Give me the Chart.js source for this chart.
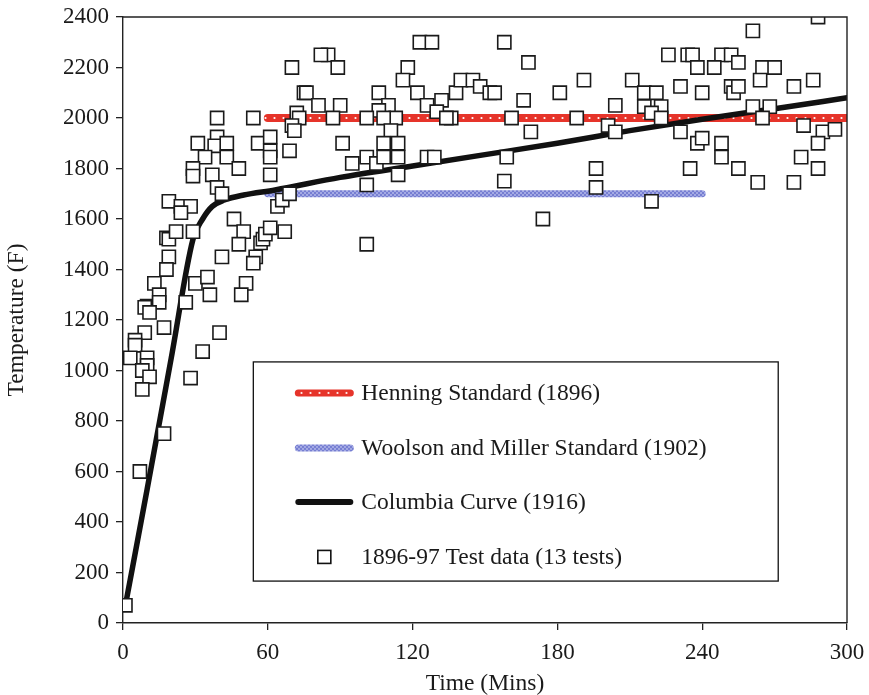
<!DOCTYPE html>
<html>
<head>
<meta charset="utf-8">
<script src="https://cdn.jsdelivr.net/npm/chart.js@4"></script>
<style>
  html, body { margin: 0; padding: 0; background: #fff; }
  #wrap { width: 869px; height: 695px; }
</style>
</head>
<body>
<div id="wrap"><canvas id="fireChart"></canvas></div>
<script>
// test data 1896-97 (minutes, deg F)
const testTimes = [
    70, 75, 72, 73, 70, 71, 39, 54, 31, 39, 38, 43, 56, 61, 61, 61, 69, 34, 43, 29,
    29, 48, 37, 61, 39, 41, 19, 24, 28, 24, 46, 64, 66, 69, 18, 19, 22, 29, 50, 48,
    57, 58, 59, 61, 67, 19, 18, 41, 55, 54, 13, 30, 35, 51, 15, 36, 49, 10, 9, 15,
    26, 11, 17, 9, 5, 5, 3, 10, 10, 8, 11, 8, 17, 7, 1, 40, 33, 28,
    85, 82, 89, 123, 128, 118, 116, 122, 126, 132, 130, 138, 140, 145, 148, 152, 76, 81, 90, 106,
    110, 106, 87, 101, 113, 108, 136, 134, 111, 91, 108, 114, 95, 101, 105, 108, 114, 126, 129, 101,
    114, 101,
    158, 168, 154, 166, 181, 191, 204, 211, 216, 221, 216, 223, 219, 223, 226, 231, 161, 188, 201, 204,
    169, 159, 158, 196, 196, 219, 174, 231,
    288, 261, 234, 236, 248, 252, 255, 238, 245, 265, 270, 264, 240, 252, 253, 255, 278, 286, 261, 268,
    265, 282, 290, 295, 238, 240, 248, 248, 288, 281, 235, 255, 288, 263, 278
];
const testTemps = [
    2200, 2100, 2020, 2000, 1970, 1950, 2000, 2000, 1900, 1925, 1890, 1900, 1900, 1925, 1870, 1845, 1870, 1845, 1845, 1800,
    1770, 1800, 1775, 1775, 1725, 1700, 1670, 1650, 1650, 1625, 1600, 1650, 1675, 1700, 1525, 1520, 1550, 1550, 1550, 1500,
    1505, 1520, 1540, 1565, 1550, 1450, 1400, 1450, 1450, 1425, 1345, 1345, 1370, 1345, 1300, 1300, 1300, 1255, 1250, 1270,
    1270, 1230, 1170, 1150, 1120, 1100, 1050, 1050, 1020, 1000, 975, 925, 750, 600, 70, 1150, 1075, 970,
    2250, 2250, 2200, 2300, 2300, 2200, 2150, 2100, 2050, 2070, 2025, 2100, 2150, 2150, 2125, 2100, 2100, 2050, 2050, 2100,
    2050, 2030, 2000, 2000, 2000, 2000, 2000, 2000, 1950, 1900, 1900, 1900, 1820, 1845, 1820, 1845, 1845, 1845, 1845, 1735,
    1775, 1500,
    2300, 2220, 2100, 2070, 2100, 2150, 2050, 2150, 2100, 2100, 2045, 2045, 2020, 2000, 2250, 2125, 2000, 2000, 1970, 1945,
    1945, 1845, 1750, 1800, 1725, 1670, 1600, 1945,
    2400, 2345, 2250, 2250, 2250, 2250, 2220, 2200, 2200, 2200, 2200, 2150, 2100, 2125, 2100, 2125, 2125, 2150, 2045, 2045,
    2000, 1970, 1945, 1955, 1900, 1920, 1900, 1845, 1900, 1845, 1800, 1800, 1800, 1745, 1745
];

// standards
const henningTimes = [60, 300];
const henningTemps = [2000, 2000];
const woolsonTimes = [60, 240];
const woolsonTemps = [1700, 1700];
const columbiaTimes = [1, 10, 20, 29, 33, 37, 42, 50, 63, 90, 120, 150, 180, 210, 240, 270, 300];
const columbiaTemps = [70, 530, 1050, 1520, 1600, 1650, 1675, 1695, 1715, 1765, 1810, 1855, 1900, 1950, 1995, 2037, 2080];

const legendLabels = [
    'Henning Standard (1896)',
    'Woolson and Miller Standard (1902)',
    'Columbia Curve (1916)',
    '1896-97 Test data (13 tests)'
];

const xTicks = [0, 60, 120, 180, 240, 300];

const serif = '"Liberation Serif", "Times New Roman", serif';

function pts(xs, ys) { return xs.map((x, i) => ({ x: x, y: ys[i] })); }

// dotted fill patterns for the standard lines
function makePattern(w, h, bg, dot, dots) {
    const c = document.createElement('canvas');
    c.width = w; c.height = h;
    const g = c.getContext('2d');
    g.fillStyle = bg; g.fillRect(0, 0, w, h);
    g.fillStyle = dot;
    dots.forEach(d => { g.beginPath(); g.arc(d[0], d[1], d[2], 0, Math.PI * 2); g.fill(); });
    return g.createPattern(c, 'repeat');
}
const redPat = makePattern(9, 8, 'rgb(230,52,42)', '#fff', [[4.5, 6, 1.1]]);
const bluePat = makePattern(4, 4, 'rgb(118,126,210)', 'rgba(235,238,255,0.9)', [[1, 1, 0.8], [3, 3, 0.8]]);

// legend box + frame
const boxPlugin = {
    id: 'boxPlugin',
    afterDatasetsDraw(chart) {
        const { ctx, chartArea: a, scales: { x, y } } = chart;
        ctx.save();
        // frame top/right
        ctx.strokeStyle = '#222';
        ctx.lineWidth = 1.4;
        ctx.beginPath();
        ctx.moveTo(a.left, a.top);
        ctx.lineTo(a.right, a.top);
        ctx.lineTo(a.right, a.bottom);
        ctx.stroke();

        // legend
        const L = x.getPixelForValue(54), R = x.getPixelForValue(271.5);
        const T = y.getPixelForValue(1034), B = y.getPixelForValue(166);
        ctx.fillStyle = '#fff';
        ctx.fillRect(L, T, R - L, B - T);
        ctx.strokeStyle = '#111';
        ctx.lineWidth = 1.3;
        ctx.strokeRect(L, T, R - L, B - T);

        const sx0 = L + 45, sx1 = L + 97, tx = L + 108;
        const rows = [31, 86, 140, 195];
        ctx.font = '23.5px ' + serif;
        ctx.textBaseline = 'middle';
        ctx.fillStyle = '#1a1a1a';
        rows.forEach((r, i) => {
            const yy = T + r;
            ctx.lineCap = 'round';
            if (i === 0 || i === 1) {
                // shift so the dot rows sit in the middle of the swatch
                ctx.save();
                ctx.translate(0, yy - 6);
                ctx.strokeStyle = i === 0 ? redPat : bluePat;
                ctx.lineWidth = 7;
                ctx.beginPath(); ctx.moveTo(sx0, 6); ctx.lineTo(sx1, 6); ctx.stroke();
                ctx.restore();
            } else if (i === 2) {
                ctx.strokeStyle = '#111';
                ctx.lineWidth = 6;
                ctx.beginPath(); ctx.moveTo(sx0, yy); ctx.lineTo(sx1, yy); ctx.stroke();
            } else {
                ctx.fillStyle = '#fff';
                ctx.fillRect(sx0 + 19.5, yy - 6.5, 13, 13);
                ctx.strokeStyle = '#111';
                ctx.lineWidth = 1.6;
                ctx.strokeRect(sx0 + 19.5, yy - 6.5, 13, 13);
                ctx.fillStyle = '#1a1a1a';
            }
            ctx.fillText(legendLabels[i], tx, yy + 1);
        });
        ctx.restore();
    }
};

const ctx = document.getElementById('fireChart');
new Chart(ctx, {
    type: 'scatter',
    data: {
        datasets: [{
            label: legendLabels[3],
            data: pts(testTimes, testTemps),
            pointStyle: 'rect',
            pointRadius: 9.3,
            pointBackgroundColor: '#fff',
            pointBorderColor: '#1a1a1a',
            pointBorderWidth: 1.6,
            showLine: false,
            order: 0
        }, {
            label: legendLabels[2],
            data: pts(columbiaTimes, columbiaTemps),
            showLine: true,
            borderColor: '#111',
            borderWidth: 5.5,
            borderCapStyle: 'round',
            borderJoinStyle: 'round',
            cubicInterpolationMode: 'monotone',
            pointRadius: 0,
            order: 1
        }, {
            label: legendLabels[1],
            data: pts(woolsonTimes, woolsonTemps),
            showLine: true,
            borderColor: bluePat,
            borderWidth: 7,
            borderCapStyle: 'round',
            pointRadius: 0,
            order: 2
        }, {
            label: legendLabels[0],
            data: pts(henningTimes, henningTemps),
            showLine: true,
            borderColor: redPat,
            borderWidth: 8,
            borderCapStyle: 'round',
            pointRadius: 0,
            order: 3
        }]
    },
    options: {
        responsive: true,
        maintainAspectRatio: false,
        animation: false,
        layout: { padding: { left: 0, top: 17, right: 22, bottom: 0 } },
        plugins: {
            legend: { display: false },
            tooltip: { enabled: false }
        },
        scales: {
            x: {
                type: 'linear',
                min: 0,
                max: 300,
                afterFit: (s) => { s.height = 72; s.paddingLeft = 0; s.paddingRight = 0; },
                afterBuildTicks: (s) => { s.ticks = xTicks.map(v => ({ value: v })); },
                grid: { display: true, drawOnChartArea: false, drawTicks: true, tickLength: 7, color: '#222', lineWidth: 1.3 },
                border: { display: true, color: '#222', width: 1.4 },
                ticks: { color: '#1a1a1a', font: { family: serif, size: 23 }, padding: 9, maxRotation: 0, callback: (v) => String(v) },
                title: { display: true, text: 'Time (Mins)', color: '#1a1a1a', font: { family: serif, size: 23.5, lineHeight: 1 }, padding: { top: 0, bottom: -1 } }
            },
            y: {
                type: 'linear',
                min: 0,
                max: 2400,
                afterFit: (s) => { s.width = 123; s.paddingTop = 0; s.paddingBottom = 0; },
                grid: { display: true, drawOnChartArea: false, drawTicks: true, tickLength: 7, color: '#222', lineWidth: 1.3 },
                border: { display: true, color: '#222', width: 1.4 },
                ticks: { stepSize: 200, color: '#1a1a1a', font: { family: serif, size: 23 }, padding: 7, callback: (v) => String(v) },
                title: { display: true, text: 'Temperature (F)', color: '#1a1a1a', font: { family: serif, size: 23.5, lineHeight: 1 }, padding: { top: 5, bottom: 0 } }
            }
        }
    },
    plugins: [boxPlugin]
});
</script>
</body>
</html>
